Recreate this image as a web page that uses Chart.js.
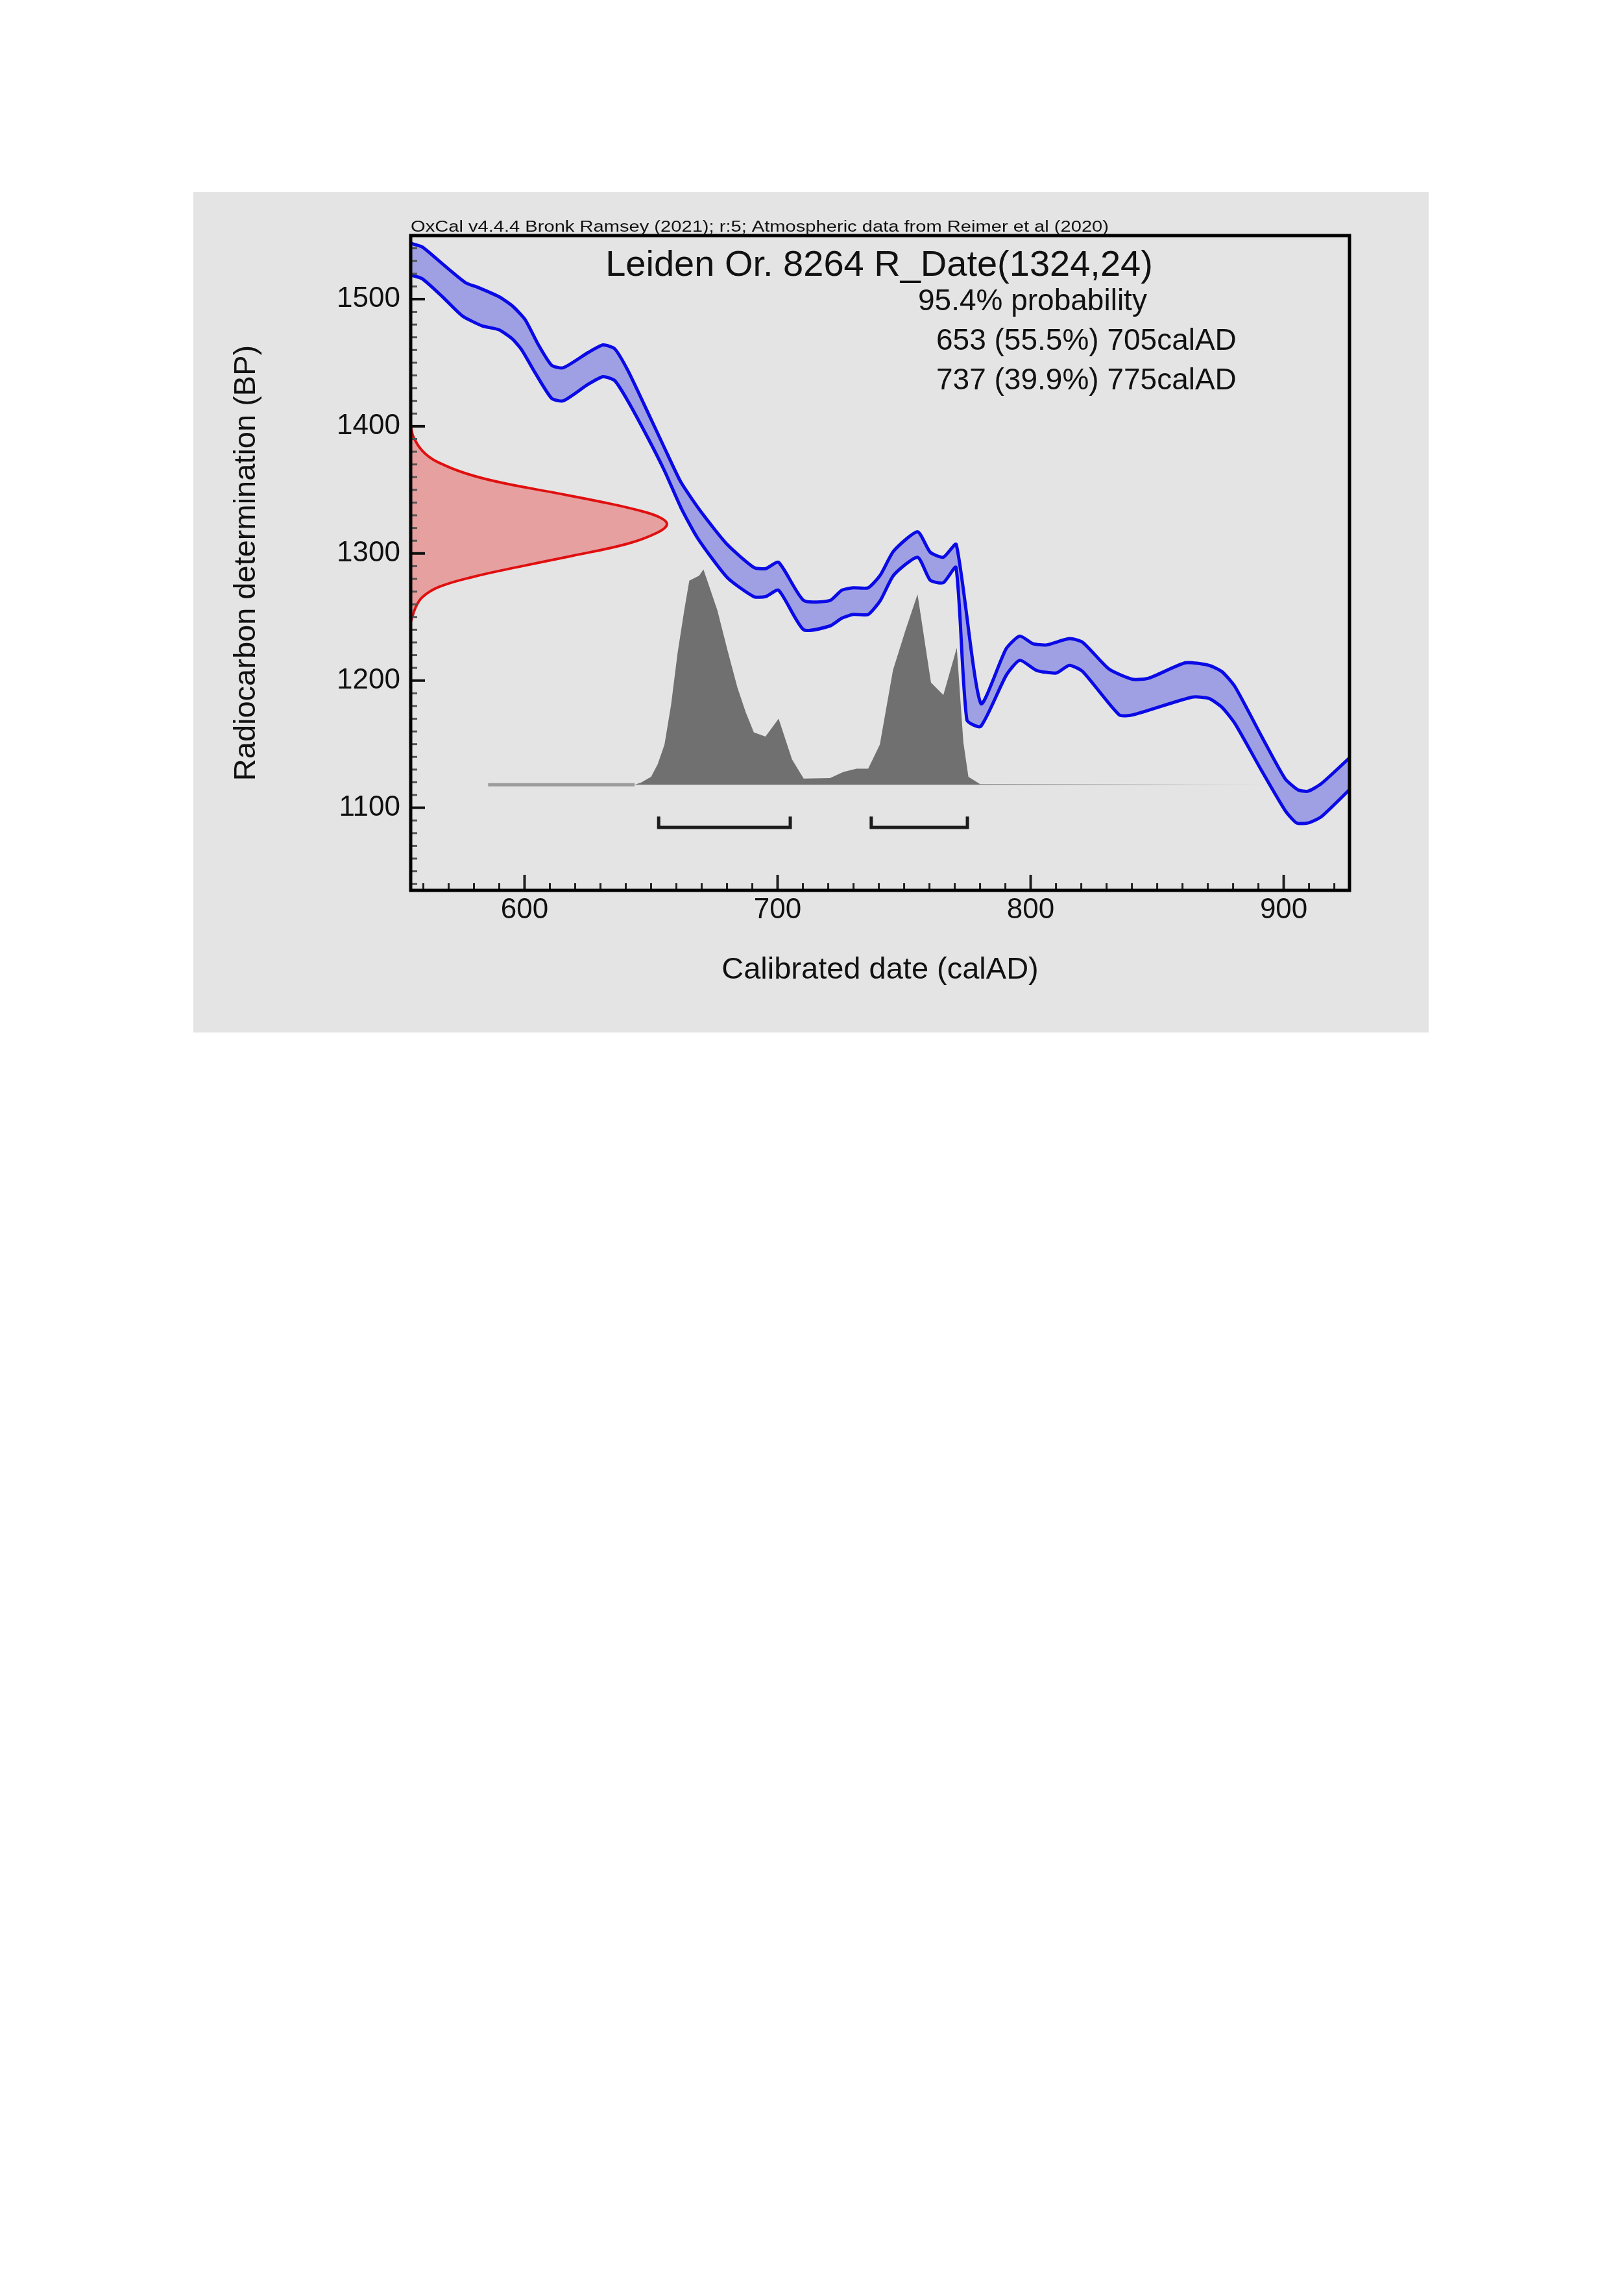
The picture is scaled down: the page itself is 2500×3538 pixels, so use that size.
<!DOCTYPE html>
<html>
<head>
<meta charset="utf-8">
<title>Leiden Or. 8264 R_Date(1324,24)</title>
<script src="https://cdn.jsdelivr.net/npm/chart.js@4.4.0/dist/chart.umd.min.js"></script>
<style>
    html, body { margin: 0; padding: 0; background: #ffffff; }
    body { width: 2500px; height: 3538px; position: relative; }
    #panel { position: absolute; left: 298px; top: 296px; width: 1904px; height: 1295px; background: #e4e4e4; }
    #panel canvas { display: block; }
</style>
</head>
<body>
<div id="panel"><canvas id="chartCal" width="1904" height="1295"></canvas></div>
<script>
// Curva de calibração (IntCal20), limite superior e inferior da faixa de 1 sigma
const upperYear = [555, 559.6, 566.2, 576.6, 581.9, 589.8, 595, 600.2, 605.5, 610.7, 615.3, 625.1, 631, 635.6, 640.8, 648.7, 655.3, 661.8, 670, 680.1, 690.6, 695.2, 700.4, 710.3, 720.7, 725.3, 729.9, 735.8, 740.6, 745.9, 755.3, 760.3, 765.5, 770.6, 780.3, 790.3, 795.7, 800.9, 806.2, 815.3, 820.6, 831, 840.3, 846.8, 861.2, 870.4, 875.6, 880.8, 891.3, 900.5, 905.7, 909.6, 914.9, 926.4];
const upperBP = [1544, 1541, 1530, 1513, 1509, 1502, 1495, 1484, 1464, 1448, 1446, 1458, 1464, 1461, 1444, 1411, 1383, 1356, 1332, 1307, 1289, 1288, 1293, 1263, 1263, 1271, 1273, 1273, 1283, 1302, 1317, 1301, 1297, 1307, 1182, 1225, 1235, 1229, 1228, 1233, 1230, 1209, 1201, 1202, 1214, 1212, 1207, 1195, 1156, 1123, 1114, 1113, 1119, 1140];

const lowerYear = [555, 559.6, 567.5, 575.3, 583.2, 589.8, 595, 598.9, 604.2, 610.7, 615.3, 625.1, 631, 635.6, 640.8, 648.7, 655.3, 661.8, 668.4, 680.1, 690.6, 695.2, 700.4, 710.3, 720.7, 725.3, 729.9, 735.8, 740.6, 745.9, 755.3, 760.3, 765.5, 770.5, 774.8, 780.3, 790.3, 795.7, 802.3, 810.1, 815.3, 820.6, 835, 840.3, 863.8, 870.4, 875.6, 880.8, 891.3, 900.5, 905.1, 909.6, 914.9, 926.4];
const lowerBP = [1519, 1516, 1502, 1487, 1479, 1476, 1469, 1460, 1442, 1422, 1420, 1433, 1439, 1436, 1420, 1391, 1365, 1336, 1312, 1281, 1266, 1266, 1271, 1240, 1243, 1249, 1252, 1252, 1263, 1283, 1297, 1279, 1277, 1289, 1169, 1164, 1204, 1216, 1208, 1206, 1212, 1207, 1173, 1173, 1187, 1186, 1179, 1166, 1129, 1098, 1088, 1088, 1093, 1115];

// Data radiocarbono R_Date(1324,24): curva vermelha no eixo y (BP -> largura em anos)
const dateBP = 1324;
const dateErr = 24;
const redBP = [1400, 1390.6, 1378, 1369, 1361.4, 1355, 1347.7, 1340, 1334, 1328.5, 1323, 1316.5, 1307.7, 1298, 1290, 1281.4, 1273.5, 1265.6, 1257.8, 1246];
const redYear = [555, 556.3, 561, 568.8, 579.3, 592.4, 612, 631.7, 644.8, 653.3, 656.3, 652.6, 640.8, 618.6, 599, 579.3, 566, 559.6, 557, 555];

// Distribuição calibrada (probabilidade relativa, pico = 1)
const probYear = [585.6, 643.5, 646.1, 650, 652.6, 655.3, 657.9, 660.5, 663.1, 665.1, 669, 670.7, 676.2, 680.2, 684.1, 687.4, 690.6, 695.2, 700.4, 705.7, 710.3, 720.7, 726, 731.2, 735.8, 740.4, 745.6, 750.5, 755.3, 760.6, 765.5, 770.8, 773.4, 775.4, 780, 894.6];
const probValue = [0, 0, 0.011, 0.037, 0.095, 0.187, 0.372, 0.614, 0.81, 0.948, 0.971, 1.0, 0.81, 0.625, 0.452, 0.337, 0.244, 0.224, 0.307, 0.118, 0.029, 0.031, 0.06, 0.075, 0.075, 0.187, 0.533, 0.717, 0.885, 0.475, 0.417, 0.636, 0.198, 0.037, 0.003, 0];

// Intervalos 95.4%
const rangeStart = [653, 737];
const rangeEnd = [705, 775];
const rangePct = [55.5, 39.9];

// Eixos
const xTickValues = [600, 700, 800, 900];
const yTickValues = [1100, 1200, 1300, 1400, 1500];

const FONT = "'Liberation Sans', Arial, sans-serif";
const BRACKET_LOW = 1084.5;
const BRACKET_HIGH = 1093;

function pts(xs, ys) { return xs.map((x, i) => ({ x: x, y: ys[i] })); }

function bracket(i) {
    return {
        data: [
            { x: rangeStart[i], y: BRACKET_HIGH }, { x: rangeStart[i], y: BRACKET_LOW },
            { x: rangeEnd[i], y: BRACKET_LOW }, { x: rangeEnd[i], y: BRACKET_HIGH }
        ],
        borderColor: '#1c1c1c',
        borderWidth: 5,
        borderJoinStyle: 'miter',
        tension: 0,
        fill: false
    };
}

// ticks internos, moldura e textos do OxCal
const oxcalPlugin = {
    id: 'oxcalFrame',
    afterDraw(chart) {
        const { ctx, chartArea: a, scales: { x, y } } = chart;
        ctx.save();
        ctx.lineCap = 'butt';
        ctx.strokeStyle = '#202020';
        for (let v = Math.ceil(x.min / 10) * 10; v <= x.max; v += 10) {
            const px = x.getPixelForValue(v);
            const major = v % 100 === 0;
            ctx.lineWidth = major ? 4 : 3;
            ctx.beginPath();
            ctx.moveTo(px, a.bottom);
            ctx.lineTo(px, a.bottom - (major ? 24 : 11));
            ctx.stroke();
        }
        for (let v = Math.ceil(y.min / 10) * 10; v <= y.max; v += 10) {
            const py = y.getPixelForValue(v);
            const major = v % 100 === 0;
            ctx.lineWidth = major ? 4 : 3;
            ctx.strokeStyle = major ? '#101010' : '#555';
            ctx.beginPath();
            ctx.moveTo(a.left, py);
            ctx.lineTo(a.left + (major ? 22 : 10), py);
            ctx.stroke();
        }
        ctx.strokeStyle = '#000';
        ctx.lineWidth = 5;
        ctx.strokeRect(a.left, a.top, a.right - a.left, a.bottom - a.top);

        ctx.fillStyle = '#111';
        ctx.textBaseline = 'alphabetic';
        // linha de crédito, esticada para a largura original
        const credit = 'OxCal v4.4.4 Bronk Ramsey (2021); r:5; Atmospheric data from Reimer et al (2020)';
        ctx.font = '23px ' + FONT;
        const sx = 1076 / ctx.measureText(credit).width;
        ctx.save();
        ctx.translate(a.left, a.top - 6);
        ctx.scale(sx, 1);
        ctx.textAlign = 'left';
        ctx.fillText(credit, 0, 0);
        ctx.restore();

        ctx.font = '56px ' + FONT;
        ctx.textAlign = 'center';
        ctx.fillText('Leiden Or. 8264 R_Date(' + dateBP + ',' + dateErr + ')', 1057, a.top + 62);

        ctx.font = '46px ' + FONT;
        ctx.textAlign = 'left';
        ctx.fillText('95.4% probability', 1117, a.top + 115);
        for (let i = 0; i < rangeStart.length; i++) {
            ctx.fillText(rangeStart[i] + ' (' + rangePct[i] + '%) ' + rangeEnd[i] + 'calAD', 1145, a.top + 176 + i * 61);
        }
        ctx.restore();
    }
};

const histColor = '#707070';
const baseColor = '#9c9c9c';

const cfg = {
    type: 'line',
    data: {
        datasets: [
            bracket(0),
            bracket(1),
            {
                data: pts(redYear, redBP),
                borderColor: '#e01010',
                backgroundColor: 'rgba(230, 160, 160, 1)',
                borderWidth: 4,
                tension: 0.4,
                fill: 'shape'
            },
            {
                data: pts(upperYear, upperBP),
                borderColor: '#0a0ae6',
                backgroundColor: '#9fa0e3',
                borderWidth: 5,
                tension: 0.2,
                fill: '+1'
            },
            {
                data: pts(lowerYear, lowerBP),
                borderColor: '#0a0ae6',
                borderWidth: 5,
                tension: 0.2,
                fill: false
            },
            {
                data: pts(probYear, probValue),
                yAxisID: 'yP',
                borderWidth: 5,
                borderColor: baseColor,
                tension: 0,
                segment: {
                    borderColor: c => (c.p0.parsed.y > 0.002 || c.p1.parsed.y > 0.002) ? 'rgba(0,0,0,0)' : baseColor
                },
                backgroundColor: histColor,
                fill: 'origin'
            }
        ]
    },
    options: {
        responsive: false,
        animation: false,
        devicePixelRatio: 1,
        layout: { padding: { top: 67, right: 122, left: 0, bottom: 0 } },
        elements: { point: { radius: 0, hoverRadius: 0 } },
        plugins: {
            legend: { display: false },
            tooltip: { enabled: false },
            filler: { drawTime: 'beforeDatasetsDraw' }
        },
        scales: {
            x: {
                type: 'linear',
                min: 555,
                max: 926,
                afterFit(s) { s.height = 219; },
                afterBuildTicks(s) { s.ticks = xTickValues.map(v => ({ value: v })); },
                grid: { display: false, drawTicks: false },
                border: { display: false },
                ticks: { font: { family: FONT, size: 44 }, color: '#111', padding: 4, maxRotation: 0, autoSkip: false, callback: v => String(v) },
                title: { display: true, text: 'Calibrated date (calAD)', font: { family: FONT, size: 47 }, color: '#111', padding: { top: 0, bottom: 68 } }
            },
            y: {
                type: 'linear',
                position: 'left',
                min: 1035,
                max: 1550,
                afterFit(s) { s.width = 335; },
                afterBuildTicks(s) { s.ticks = yTickValues.map(v => ({ value: v })); },
                grid: { display: false, drawTicks: false },
                border: { display: false },
                ticks: { font: { family: FONT, size: 44 }, color: '#111', padding: 16, autoSkip: false, callback: v => String(v) },
                title: { display: true, text: 'Radiocarbon determination (BP)', font: { family: FONT, size: 47 }, color: '#111', padding: { top: 54, bottom: 0 } }
            },
            yP: { type: 'linear', display: false, min: -0.49, max: 2.55 }
        }
    },
    plugins: [oxcalPlugin]
};

document.addEventListener('DOMContentLoaded', function () {
    new Chart(document.getElementById('chartCal').getContext('2d'), cfg);
});
</script>
</body>
</html>
